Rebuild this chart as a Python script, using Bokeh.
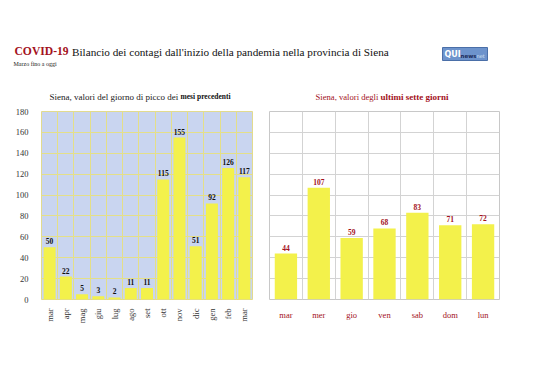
import math
from bokeh.plotting import figure
from bokeh.layouts import column, row
from bokeh.models import Range1d, FixedTicker, ColumnDataSource
from bokeh.core.properties import value
from bokeh.embed import file_html
from bokeh.resources import INLINE

# ---- data ----
months = ["mar", "apr", "mag", "giu", "lug", "ago", "set", "ott", "nov", "dic", "gen", "feb", "mar"]
month_peaks = [50, 22, 5, 3, 2, 11, 11, 115, 155, 51, 92, 126, 117]
days = ["mar", "mer", "gio", "ven", "sab", "dom", "lun"]
day_values = [44, 107, 59, 68, 83, 71, 72]
y_ticks = [0, 20, 40, 60, 80, 100, 120, 140, 160, 180]

SERIF = value("Liberation Serif")
DARKRED = "#a3121c"
YELLOW = "#f3f14b"
OFF = 7  # page offset

# ---- header figure ----
head = figure(width=522 + OFF, height=100 + OFF, x_range=Range1d(-OFF, 522), y_range=Range1d(100, -OFF),
              output_backend="svg", toolbar_location=None, min_border=0)
head.axis.visible = False
head.grid.visible = False
head.outline_line_color = None

head.text(x=[7], y=[44], text=["COVID-19"], text_font=SERIF, text_font_style="bold",
          text_font_size="11.6px", text_color=DARKRED, text_baseline="middle")
head.text(x=[64.5], y=[44], text=["Bilancio dei contagi dall'inizio della pandemia nella provincia di Siena"],
          text_font=SERIF, text_font_size="11.2px", text_color="#111111", text_baseline="middle")
head.text(x=[6], y=[56], text=["Marzo fino a oggi"], text_font=SERIF, text_font_size="6px",
          text_color="#222222", text_baseline="middle")

# logo
head.quad(left=[435], right=[480], top=[40], bottom=[53], fill_color="#6d93cc",
          line_color="#4a6fa8", line_width=1)
head.text(x=[437], y=[47], text=["QUI"], text_font=value("DejaVu Sans"), text_font_style="bold",
          text_font_size="8px", text_color="white", text_baseline="middle")
head.text(x=[453], y=[48], text=["news"], text_font=value("DejaVu Sans"), text_font_style="bold",
          text_font_size="5.5px", text_color="#1c2c5a", text_baseline="middle")
head.text(x=[469], y=[48], text=["net"], text_font=value("DejaVu Sans"),
          text_font_size="5px", text_color="#dce6f5", text_baseline="middle")

# chart titles
head.text(x=[173], y=[89], text=["Siena, valori del giorno di picco dei "], text_font=SERIF,
          text_font_size="9px", text_color="#222222", text_baseline="middle", text_align="right")
head.text(x=[173], y=[89], text=["mesi precedenti"], text_font=SERIF, text_font_style="bold",
          text_font_size="7.5px", text_color="#111111", text_baseline="middle", text_align="left")
head.text(x=[373], y=[89], text=["Siena, valori degli "], text_font=SERIF,
          text_font_size="8.6px", text_color=DARKRED, text_baseline="middle", text_align="right")
head.text(x=[373], y=[89], text=["ultimi sette giorni"], text_font=SERIF, text_font_style="bold",
          text_font_size="9px", text_color=DARKRED, text_baseline="middle", text_align="left")

# ---- left chart ----
n = len(months)
src_l = ColumnDataSource(dict(x=list(range(n)), y=month_peaks, lab=[str(v) for v in month_peaks]))
left = figure(width=258 + OFF, height=250, x_range=Range1d(-0.5, n - 0.5), y_range=Range1d(0, 180),
              output_backend="svg", toolbar_location=None,
              min_border_left=34 + OFF, min_border_right=13, min_border_top=4, min_border_bottom=58)
left.background_fill_color = "#c9d5f0"
left.outline_line_color = "#e2db8e"
left.vbar(x="x", top="y", width=0.74, source=src_l, fill_color=YELLOW, line_color=None)
left.text(x="x", y="y", text="lab", source=src_l, y_offset=-3, text_align="center",
          text_baseline="bottom", text_font=SERIF, text_font_style="bold",
          text_font_size="7.5px", text_color="#111111")
left.xaxis.ticker = FixedTicker(ticks=list(range(n)))
left.xaxis.major_label_overrides = {i: mm for i, mm in enumerate(months)}
left.xaxis.major_label_orientation = math.pi / 2
left.yaxis.ticker = FixedTicker(ticks=y_ticks)
left.xgrid.ticker = FixedTicker(ticks=[i - 0.5 for i in range(n + 1)])
left.grid.grid_line_color = "#e4df88"
left.grid.grid_line_width = 1
for ax in (left.xaxis, left.yaxis):
    ax.axis_line_color = None
    ax.major_tick_line_color = None
    ax.minor_tick_line_color = None
    ax.major_label_text_font = "Liberation Serif"
    ax.major_label_text_font_size = "8.5px"
    ax.major_label_text_color = "#333333"
left.xaxis.major_label_standoff = 3
left.yaxis.major_label_standoff = 7

# ---- right chart ----
m = len(days)
src_r = ColumnDataSource(dict(x=list(range(m)), y=day_values, lab=[str(v) for v in day_values]))
right = figure(width=264, height=250, x_range=Range1d(-0.5, m - 0.5), y_range=Range1d(0, 180),
               output_backend="svg", toolbar_location=None,
               min_border_left=4, min_border_right=30, min_border_top=4, min_border_bottom=52)
right.background_fill_color = "white"
right.outline_line_color = "#c8c8c8"
right.vbar(x="x", top="y", width=0.68, source=src_r, fill_color=YELLOW, line_color=None)
right.text(x="x", y="y", text="lab", source=src_r, y_offset=-3, text_align="center",
           text_baseline="bottom", text_font=SERIF, text_font_style="bold",
           text_font_size="7.5px", text_color=DARKRED)
right.xaxis.ticker = FixedTicker(ticks=list(range(m)))
right.xaxis.major_label_overrides = {i: d for i, d in enumerate(days)}
right.yaxis.visible = False
right.yaxis.ticker = FixedTicker(ticks=y_ticks)
right.xgrid.ticker = FixedTicker(ticks=[i - 0.5 for i in range(m + 1)])
right.ygrid.ticker = FixedTicker(ticks=y_ticks)
right.grid.grid_line_color = "#d3d3d3"
right.xaxis.axis_line_color = None
right.xaxis.major_tick_line_color = None
right.xaxis.minor_tick_line_color = None
right.xaxis.major_label_text_font = "Liberation Serif"
right.xaxis.major_label_text_font_size = "8.5px"
right.xaxis.major_label_text_color = DARKRED
right.xaxis.major_label_standoff = 4

layout = column(head, row(left, right, spacing=0), spacing=0)
open("out.html", "w").write(file_html(layout, INLINE))
